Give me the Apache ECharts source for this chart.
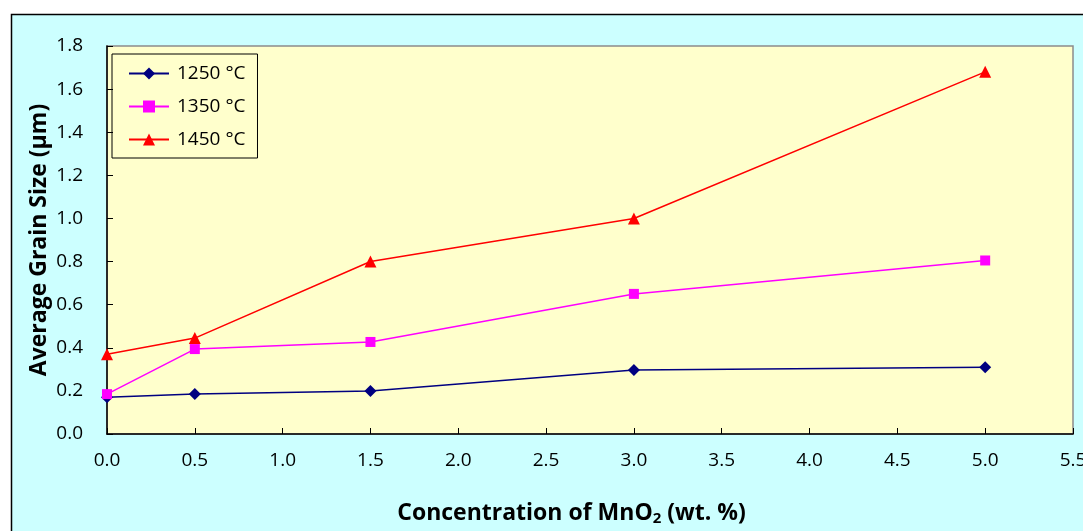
<!DOCTYPE html>
<html>
<head>
<meta charset="utf-8">
<script src="https://cdn.jsdelivr.net/npm/echarts@6/dist/echarts.min.js"></script>
<style>
  html, body { margin: 0; padding: 0; background: #ffffff; }
  #chart { width: 1083px; height: 531px; }
</style>
</head>
<body>
<div id="chart"></div>
<script>
// MnO2 concentration (wt. %) and average grain size (µm) at three sintering temperatures
const concentrations = [0.0, 0.5, 1.5, 3.0, 5.0];
const grain1250 = [0.17, 0.185, 0.20, 0.297, 0.31];
const grain1350 = [0.185, 0.394, 0.427, 0.65, 0.805];
const grain1450 = [0.37, 0.445, 0.80, 1.00, 1.68];
const seriesNames = ['1250 °C', '1350 °C', '1450 °C'];

const FONT = 'Open Sans';

const chart = echarts.init(document.getElementById('chart'), null, { renderer: 'canvas' });

function pairs(ys) {
  return concentrations.map((x, i) => [x, ys[i]]);
}

chart.setOption({
  animation: false,
  backgroundColor: '#ffffff',
  graphic: [
    {
      type: 'rect',
      z: -10,
      shape: { x: 11.5, y: 14.5, width: 1100, height: 600 },
      style: { fill: '#CCFFFF', stroke: '#000000', lineWidth: 1.5 }
    }
  ],
  grid: {
    left: 107, top: 46, right: 10, bottom: 97,
    outerBoundsMode: 'none',
    containLabel: false,
    show: true,
    backgroundColor: '#FFFFCC',
    borderColor: '#8c8c8c',
    borderWidth: 1.5
  },
  legend: {
    data: seriesNames,
    orient: 'vertical',
    left: 112, top: 54,
    padding: [10, 12, 9, 16],
    itemGap: 14,
    itemWidth: 40, itemHeight: 15,
    borderColor: '#000000',
    borderWidth: 1,
    backgroundColor: 'rgba(0,0,0,0)',
    textStyle: { fontFamily: FONT, fontSize: 19, color: '#000000', padding: [0, 0, 0, 3] }
  },
  xAxis: {
    type: 'value',
    min: 0, max: 5.5, interval: 0.5,
    name: 'Concentration of MnO{sub|2} (wt. %)',
    nameLocation: 'middle',
    nameGap: 67,
    nameMoveOverlap: false,
    nameTextStyle: {
      fontFamily: FONT, fontSize: 23, fontWeight: 'bold', color: '#000000',
      padding: [0, 37, 0, 0],
      rich: {
        sub: { fontFamily: FONT, fontSize: 15, fontWeight: 'bold', color: '#000000', verticalAlign: 'bottom', padding: [10, 0, 0, 0] }
      }
    },
    axisLine: { show: true, lineStyle: { color: '#000000', width: 1.5 } },
    axisTick: { show: true, inside: true, length: 6, lineStyle: { color: '#000000' } },
    axisLabel: {
      margin: 17,
      fontFamily: FONT, fontSize: 19, color: '#000000',
      formatter: v => v.toFixed(1)
    },
    splitLine: { show: false }
  },
  yAxis: {
    type: 'value',
    min: 0, max: 1.8, interval: 0.2,
    name: 'Average Grain Size (µm)',
    nameLocation: 'middle',
    nameGap: 56,
    nameMoveOverlap: false,
    nameTextStyle: { fontFamily: FONT, fontSize: 23, fontWeight: 'bold', color: '#000000' },
    axisLine: { show: true, lineStyle: { color: '#000000', width: 1.5 } },
    axisTick: { show: true, inside: true, length: 6, lineStyle: { color: '#000000' } },
    axisLabel: {
      margin: 24,
      fontFamily: FONT, fontSize: 19, color: '#000000',
      formatter: v => v.toFixed(1)
    },
    splitLine: { show: false }
  },
  series: [
    {
      name: seriesNames[0], type: 'line', data: pairs(grain1250),
      symbol: 'diamond', symbolSize: 12,
      lineStyle: { color: '#000080', width: 1.5 },
      itemStyle: { color: '#000080' }
    },
    {
      name: seriesNames[1], type: 'line', data: pairs(grain1350),
      symbol: 'rect', symbolSize: 10,
      lineStyle: { color: '#FF00FF', width: 1.5 },
      itemStyle: { color: '#FF00FF' }
    },
    {
      name: seriesNames[2], type: 'line', data: pairs(grain1450),
      symbol: 'triangle', symbolSize: 12,
      lineStyle: { color: '#FF0000', width: 1.5 },
      itemStyle: { color: '#FF0000' }
    }
  ]
});
</script>
</body>
</html>
